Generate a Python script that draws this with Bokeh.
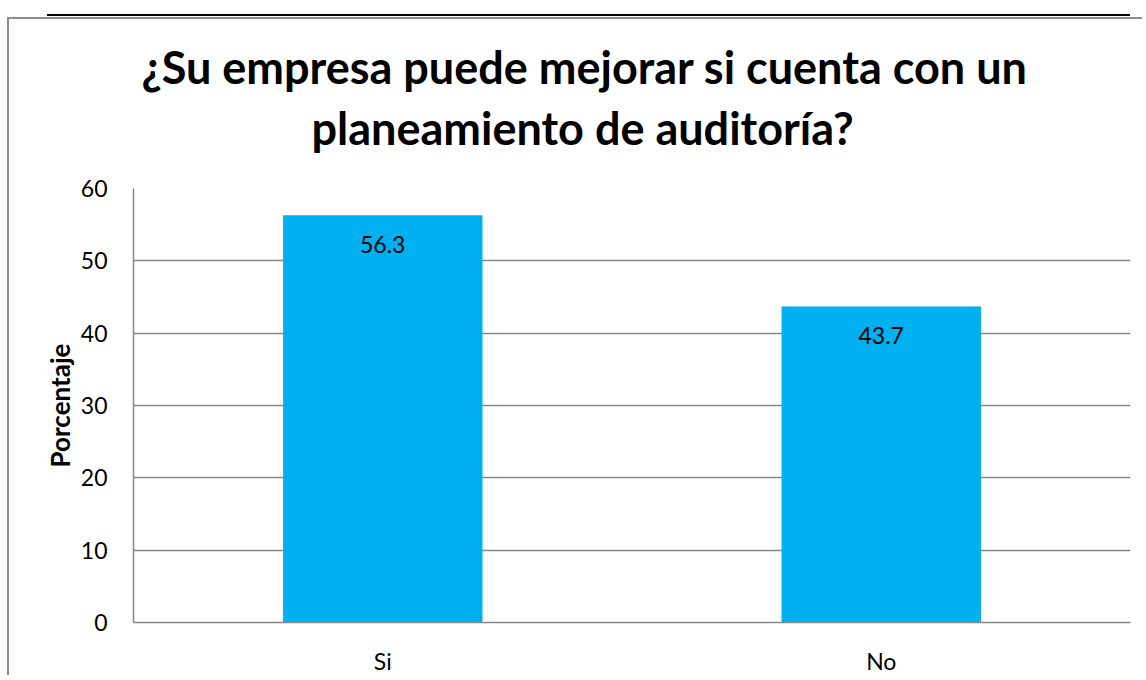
from bokeh.plotting import figure
from bokeh.models import ColumnDataSource, Range1d, FactorRange, LabelSet, Title, Div
from bokeh.core.properties import value
from bokeh.layouts import column
from bokeh.embed import file_html
from bokeh.resources import INLINE

categories = ["Si", "No"]
values = [56.3, 43.7]
labels = ["56.3", "43.7"]
title_line1 = "¿Su empresa puede mejorar si cuenta con un"
title_line2 = "planeamiento de auditoría?"
y_label = "Porcentaje"
y_ticks = [0, 10, 20, 30, 40, 50, 60]

FONT = "Lato"
GRID = "#878787"

src = ColumnDataSource(dict(cat=categories, val=values, lab=labels))

p = figure(
    x_range=FactorRange(*categories, range_padding=0.0),
    y_range=Range1d(0, 60),
    width=1135, height=658,
    output_backend="svg", toolbar_location=None,
    min_border_left=124, min_border_right=14, min_border_bottom=55, min_border_top=169,
    margin=(1, 0, 0, 7),
    styles={"border-left": "2px solid #8c8c8c", "border-top": "2px solid #8c8c8c"},
)
p.title = None
t2 = Title(text=title_line2, align="left", text_font=FONT, text_font_size="45px",
           text_font_style="bold", text_color="black", standoff=68, offset=178)
t1 = Title(text=title_line1, align="left", text_font=FONT, text_font_size="45px",
           text_font_style="bold", text_color="black", standoff=-59, offset=8)
p.add_layout(t2, "above")
p.add_layout(t1, "above")

p.vbar(x="cat", top="val", width=0.4, source=src, fill_color="#00B0F0", line_color=None)

p.add_layout(LabelSet(x="cat", y="val", text="lab", source=src, text_align="center",
                      text_baseline="middle", y_offset=-29, text_font=value(FONT),
                      text_font_size=value("23px"), text_color=value("black")))

p.outline_line_color = None
p.background_fill_color = "white"
p.border_fill_color = "white"

p.xgrid.grid_line_color = None
p.ygrid.grid_line_color = GRID
p.ygrid.grid_line_width = 1.5
p.yaxis.ticker = y_ticks

for ax in (p.xaxis[0], p.yaxis[0]):
    ax.axis_line_color = GRID
    ax.axis_line_width = 1.5
    ax.major_tick_line_color = None
    ax.minor_tick_line_color = None
    ax.major_label_text_font = FONT
    ax.major_label_text_font_size = "23px"
    ax.major_label_text_color = "black"

p.yaxis.major_label_standoff = 20
p.xaxis.major_label_standoff = 18
p.yaxis.axis_label = y_label
p.yaxis.axis_label_text_font = FONT
p.yaxis.axis_label_text_font_style = "bold"
p.yaxis.axis_label_text_font_size = "26px"
p.yaxis.axis_label_text_color = "black"
p.yaxis.axis_label_standoff = 2

line = Div(text="", width=1083, height=2, margin=(14, 0, 0, 47),
           styles={"background-color": "black"})

layout = column(line, p, spacing=0)

open("out.html", "w").write(file_html(layout, INLINE))
